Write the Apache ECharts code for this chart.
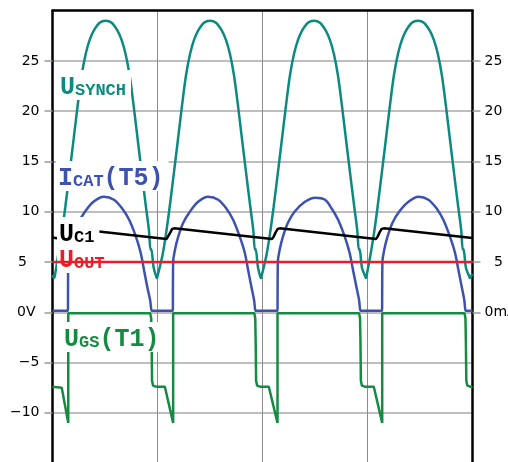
<!DOCTYPE html>
<html><head><meta charset="utf-8">
<script src="https://cdn.jsdelivr.net/npm/echarts@6/dist/echarts.min.js"></script>
<style>html,body{margin:0;padding:0;background:#fff}#c{width:508px;height:462px}</style>
</head><body><div id="c"></div>
<script>
// ---- data (time in grid divisions, value in V / mA) ----
const uSynch = [[0,3.7],[0.012,3.45],[0.016,3.4],[0.02,3.5],[0.054,5.7],[0.087,7.8],[0.121,10.4],[0.159,13.6],[0.202,17.3],[0.24,20.6],[0.278,23.6],[0.316,25.7],[0.354,27.1],[0.392,28.0],[0.449,28.8],[0.506,29],[0.563,28.8],[0.62,28.0],[0.658,27.1],[0.696,25.7],[0.734,23.6],[0.772,20.6],[0.81,17.3],[0.853,13.6],[0.891,10.4],[0.918,8.2],[0.934,6.2],[0.94,6.3],[0.964,4.4],[0.99,3.5],[0.994,3.4],[0.998,3.5],
 [1.048,5.7],[1.081,7.8],[1.115,10.4],[1.153,13.6],[1.196,17.3],[1.234,20.6],[1.272,23.6],[1.31,25.7],[1.348,27.1],[1.386,28.0],[1.443,28.8],[1.5,29],[1.557,28.8],[1.614,28.0],[1.652,27.1],[1.69,25.7],[1.728,23.6],[1.766,20.6],[1.804,17.3],[1.847,13.6],[1.885,10.4],[1.912,8.2],[1.928,6.2],[1.934,6.3],[1.958,4.4],[1.981,3.5],[1.985,3.4],[1.989,3.5],
 [2.038,5.7],[2.071,7.8],[2.105,10.4],[2.143,13.6],[2.186,17.3],[2.224,20.6],[2.262,23.6],[2.3,25.7],[2.338,27.1],[2.376,28.0],[2.433,28.8],[2.49,29],[2.547,28.8],[2.604,28.0],[2.642,27.1],[2.68,25.7],[2.718,23.6],[2.756,20.6],[2.794,17.3],[2.837,13.6],[2.875,10.4],[2.902,8.2],[2.918,6.2],[2.924,6.3],[2.948,4.4],[2.981,3.5],[2.985,3.4],[2.989,3.5],
 [3.028,5.7],[3.061,7.8],[3.095,10.4],[3.133,13.6],[3.176,17.3],[3.214,20.6],[3.252,23.6],[3.29,25.7],[3.328,27.1],[3.366,28.0],[3.423,28.8],[3.48,29],[3.537,28.8],[3.594,28.0],[3.632,27.1],[3.67,25.7],[3.708,23.6],[3.746,20.6],[3.784,17.3],[3.827,13.6],[3.865,10.4],[3.892,8.2],[3.908,6.2],[3.914,6.3],[3.938,4.4],[3.971,3.5],[3.975,3.4],[3.979,3.5],[4.0,3.8]];
const iCat = [[0,0.15],[0.147,0.15],[0.15,0.15],[0.15,5.0],[0.167,6.2],[0.198,7.5],[0.246,8.9],[0.309,10.0],[0.39,11.0],[0.49,11.5],[0.585,11.2],[0.665,10.3],[0.73,9.2],[0.795,7.5],[0.84,5.9],[0.875,4.0],[0.905,2.4],[0.93,1.2],[0.944,0.15],[0.948,0.15],
 [1.146,0.15],[1.149,0.15],[1.149,5.0],[1.166,6.2],[1.197,7.5],[1.245,8.9],[1.308,10.0],[1.387,11.0],[1.482,11.5],[1.578,11.2],[1.657,10.3],[1.72,9.2],[1.784,7.5],[1.832,5.9],[1.863,4.2],[1.895,2.5],[1.92,1.2],[1.933,0.15],[1.937,0.15],
 [2.143,0.15],[2.146,0.15],[2.146,5.0],[2.163,6.2],[2.194,7.5],[2.242,8.9],[2.305,10.0],[2.404,11.0],[2.504,11.4],[2.595,11.2],[2.66,10.3],[2.72,9.2],[2.784,7.5],[2.83,5.9],[2.862,4.2],[2.895,2.5],[2.92,1.2],[2.932,0.15],[2.936,0.15],
 [3.139,0.15],[3.142,0.15],[3.142,5.0],[3.159,6.2],[3.19,7.5],[3.238,8.9],[3.301,10.0],[3.39,11.0],[3.487,11.5],[3.58,11.2],[3.66,10.3],[3.722,9.2],[3.786,7.5],[3.834,5.9],[3.866,4.2],[3.898,2.5],[3.922,1.2],[3.934,0.15],[3.938,0.15],[4.0,0.15]];
const uGs = [[0,-7.4],[0.088,-7.5],[0.15,-11],[0.15,-0.1],[0.93,-0.1],[0.94,-0.6],[0.944,-3],[0.948,-6.8],[0.958,-7.3],[0.985,-7.4],[1.07,-7.4],[1.149,-11],[1.149,-0.1],
 [1.922,-0.1],[1.931,-0.6],[1.935,-3],[1.939,-6.8],[1.949,-7.3],[1.975,-7.4],[2.06,-7.4],[2.143,-11],[2.143,-0.1],
 [2.92,-0.1],[2.929,-0.6],[2.933,-3],[2.937,-6.8],[2.947,-7.3],[2.973,-7.4],[3.06,-7.4],[3.14,-11],[3.14,-0.1],
 [3.924,-0.1],[3.933,-0.6],[3.937,-3],[3.941,-6.8],[3.951,-7.3],[3.977,-7.4],[4.0,-7.5]];
const uC1 = [[0,7.45],[0.087,7.3],[0.1,7.45],[0.12,7.9],[0.14,8.3],[0.16,8.35],[1.087,7.3],[1.1,7.45],[1.12,7.9],[1.14,8.3],[1.16,8.35],
 [2.09,7.3],[2.105,7.5],[2.125,7.95],[2.145,8.3],[2.165,8.35],[3.08,7.3],[3.095,7.5],[3.115,7.95],[3.135,8.3],[3.155,8.35],[4.0,7.4]];
const uOut = [[0,5],[4,5]];
const leftTickValues = [-10,-5,0,5,10,15,20,25];
const leftTickLabels = ['\u221210','\u22125','0V','5','10','15','20','25'];
const rightTickValues = [0,5,10,15,20,25];
const rightTickLabels = ['0mA','5','10','15','20','25'];

const C = {teal:'#0d8a80', blue:'#3d52b0', red:'#ec1c24', green:'#168a42', black:'#000'};
const MONO = '"Liberation Mono", "DejaVu Sans Mono", monospace';
const AXF = '"DejaVu Sans", sans-serif';
function lab(left, top, color, big1, sub, big2) {
  return {
    left, top, padding:[0,5,0,2], backgroundColor:'#fff',
    text: '{b|' + big1 + '}{s|' + sub + '}' + (big2 ? '{b|' + big2 + '}' : ''),
    textStyle: { rich: {
      b:{fontFamily:MONO, fontWeight:'bold', fontSize:25, lineHeight:24, color, verticalAlign:'top'},
      s:{fontFamily:MONO, fontWeight:'bold', fontSize:17, lineHeight:17, color, padding:[12,0,0,0], verticalAlign:'bottom'}
    }}
  };
}
const chart = echarts.init(document.getElementById('c'), null, {renderer:'canvas'});
const lineS = (data, color, z, smooth) => ({type:'line', data, showSymbol:false, symbol:'none', animation:false,
  smooth: smooth || false, lineStyle:{color, width:2.5}, z, silent:true});
const frame = {show:true, lineStyle:{color:'#000', width:2.5}};
const tickRich = (padL, padR) => ({
  n:{fontFamily:AXF, fontSize:14, color:'#000'},
  f:{fontFamily:AXF, fontSize:14, color:'#000', padding:[0,padR,0,padL]},
  v:{fontFamily:AXF, fontSize:14, color:'#000', padding:[0,4,0,0]}
});
chart.setOption({
  animation:false,
  title:[
    lab(58, 75, C.teal, 'U', 'SYNCH'),
    lab(56, 166, C.blue, 'I', 'CAT', '(T5)'),
    lab(57, 222, C.black, 'U', 'C1'),
    lab(57, 248, C.red, 'U', 'OUT'),
    lab(62, 327, C.green, 'U', 'GS', '(T1)')
  ],
  grid:{left:52.5, right:35.5, top:10.7, height:452.4, show:false, outerBoundsMode:'none', containLabel:false},
  xAxis:{type:'value', position:'top', min:0, max:4, interval:1, axisLine:{show:true, onZero:false, lineStyle:{color:'#000', width:2.5}},
    axisTick:{show:false}, axisLabel:{show:false},
    splitLine:{show:true, lineStyle:{color:'#8c8c8c', width:1}}},
  yAxis:[
    {type:'value', position:'left', min:-15, max:30, interval:5,
      axisLine:frame,
      axisTick:{show:true, length:8, customValues:leftTickValues, lineStyle:{color:'#9a9a9a', width:1.5}},
      axisLabel:{customValues:leftTickValues, margin:13, rich:tickRich(0,12.5),
        formatter:(v)=>{const s=leftTickLabels[leftTickValues.indexOf(v)]; if(s===undefined) return ''; return s==='5'?'{f|5}':(s==='0V'?'{v|0V}':'{n|'+s+'}');}},
      splitLine:{show:true, lineStyle:{color:'#a8a8a8', width:1.5}}},
    {type:'value', position:'right', min:-15, max:30, interval:5,
      axisLine:frame,
      axisTick:{show:true, length:8, customValues:rightTickValues, lineStyle:{color:'#9a9a9a', width:1.5}},
      axisLabel:{customValues:rightTickValues, margin:12, rich:tickRich(9.5,0),
        formatter:(v)=>{const s=rightTickLabels[rightTickValues.indexOf(v)]; if(s===undefined) return ''; return s==='5'?'{f|5}':'{n|'+s+'}';}},
      splitLine:{show:false}}
  ],
  series:[
    lineS(uSynch, C.teal, 2, 0.35),
    lineS(iCat, C.blue, 3, 0.35),
    lineS(uGs, C.green, 4, false),
    lineS(uC1, C.black, 5, false),
    lineS(uOut, C.red, 6, false)
  ]
});
</script></body></html>
